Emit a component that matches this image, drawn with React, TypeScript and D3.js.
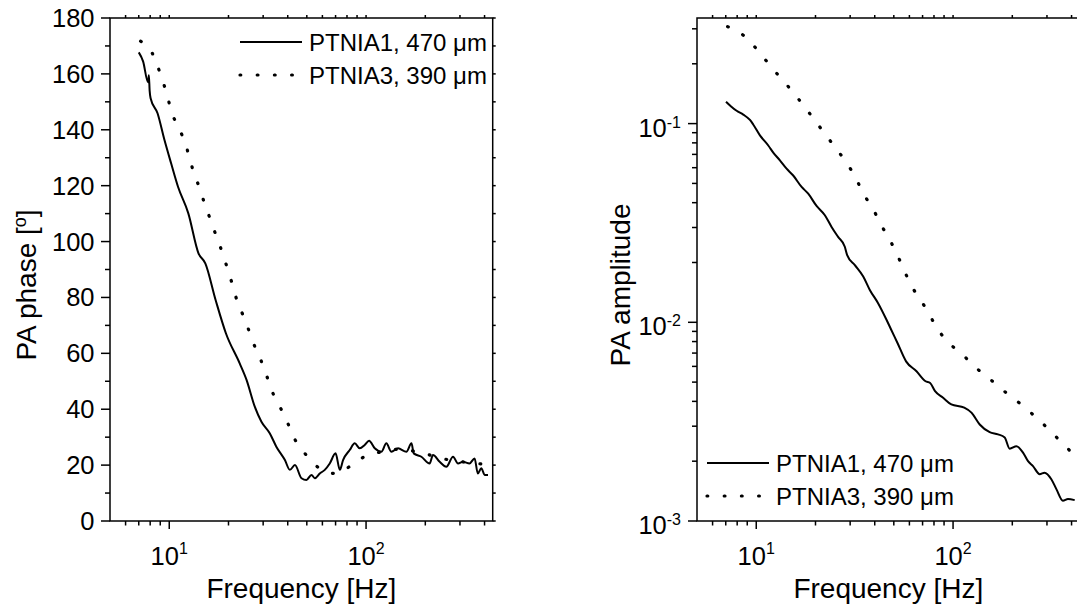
import React from 'react';
import * as d3 from 'd3';

// PA phase [deg] vs frequency [Hz]
const phaseFreq1 = [7.0, 7.37, 7.8, 7.88, 7.95, 8.04, 8.72, 9.45, 10.22, 11.08, 12.5, 14.08, 15.25, 17.2, 19.4, 22.8, 24.7, 27.2, 29.4, 32.4, 35, 38.7, 41, 43.5, 47, 49.8, 52.8, 54.9, 58.2, 61.7, 65.4, 70, 73.6, 76.4, 82.6, 87.6, 92.9, 98.4, 103.6, 110.7, 119.6, 126.8, 134.5, 145.4, 160.3, 170.1, 174.7, 191, 210.4, 218.8, 236.6, 255.8, 276.6, 293.3, 310.6, 335.6, 356, 369.7, 385, 400.4, 416.5];
const phase1 = [167.7, 164.4, 157, 159.5, 154, 151.3, 145.9, 136.4, 128, 119.6, 110.1, 95.8, 92.2, 79.1, 67.2, 56.4, 50.5, 40.9, 35.5, 31.4, 26.6, 21.8, 18.3, 20, 15.3, 14.7, 16.5, 15.3, 17, 18.3, 20.6, 24.2, 18.3, 21.8, 25.4, 27.8, 26, 27.2, 28.7, 26, 24.8, 27.8, 24.8, 26, 24.8, 27.8, 24.2, 23, 20.6, 23.6, 21.2, 19.4, 23, 20.6, 21.2, 20.6, 22.4, 17, 18.9, 16.5, 16.5];
const phaseFreq3 = [7.15, 8.2, 8.87, 9.44, 9.97, 10.24, 11.16, 12.1, 13.28, 14.26, 15.1, 16.22, 17.37, 18.66, 19.8, 21.05, 22.3, 23.7, 25.5, 26.8, 29.2, 31.4, 33.1, 36.5, 39.9, 43.5, 49.8, 57.8, 70, 84.3, 101.6, 123, 147.2, 180.2, 218.8, 254, 305, 370, 410];
const phase3 = [171.7, 167.4, 161.4, 155.7, 149.8, 146.7, 140.9, 134.8, 125, 119.1, 113.7, 107.7, 101.8, 95.8, 90.1, 84.1, 77.9, 73.7, 67.8, 63.6, 57.6, 51.6, 46.9, 40.9, 35.2, 29.2, 23.5, 18.9, 17, 19.9, 23.6, 24.8, 25.7, 24.8, 23.3, 22.1, 21.2, 20.6, 20];

// PA amplitude vs frequency
const ampFreq1 = [7.02, 7.45, 7.95, 8.59, 9.29, 9.65, 10.44, 11.51, 12.2, 13.19, 14.26, 15.41, 17.0, 18.37, 20.25, 22.32, 24.14, 26.06, 28.18, 28.97, 31.7, 34.96, 37.76, 41.6, 45.9, 48.5, 52.2, 57.7, 65.2, 72.5, 76.5, 81, 89, 98, 114, 124, 136.6, 153.5, 169.2, 183, 194, 210, 226.7, 240.4, 254.8, 275.5, 291.8, 315.7, 334.9, 361.4, 383.6, 415];
const amp1 = [0.1288, 0.122, 0.116, 0.111, 0.1043, 0.099, 0.0873, 0.0776, 0.0715, 0.0653, 0.0593, 0.0548, 0.048, 0.0444, 0.0385, 0.0346, 0.0302, 0.0269, 0.024, 0.0218, 0.0194, 0.017, 0.01455, 0.01248, 0.0103, 0.00917, 0.00787, 0.00636, 0.00567, 0.00505, 0.00495, 0.0045, 0.00417, 0.00386, 0.00372, 0.00351, 0.00306, 0.0028, 0.00273, 0.00263, 0.00231, 0.00238, 0.00221, 0.002, 0.00189, 0.00172, 0.00175, 0.001623, 0.001447, 0.001264, 0.00129, 0.001274];
const ampFreq3 = [7.15, 8.59, 9.97, 11.24, 12.93, 14.87, 17.06, 19.56, 22.32, 25.38, 28.5, 32.07, 34.7, 39.1, 43.1, 48.1, 52.8, 57.5, 63.4, 71.8, 80.2, 91.5, 109.5, 131.2, 157.2, 188, 225.4, 254, 298, 350, 410, 440];
const amp3 = [0.3077, 0.2783, 0.2394, 0.207, 0.1754, 0.1497, 0.1264, 0.1059, 0.0888, 0.0752, 0.0643, 0.0532, 0.0451, 0.0374, 0.0309, 0.0256, 0.0212, 0.0175, 0.0145, 0.012, 0.00991, 0.00817, 0.00701, 0.00589, 0.00509, 0.00438, 0.00381, 0.00344, 0.00297, 0.00253, 0.00217, 0.00205];

const xMajor = [10, 100];
const xMinor = [6, 7, 8, 9, 20, 30, 40, 50, 60, 70, 80, 90, 200, 300, 400];
const phaseMajor = [0, 20, 40, 60, 80, 100, 120, 140, 160, 180];
const phaseMinor = [10, 30, 50, 70, 90, 110, 130, 150, 170];
const ampMajor = [0.001, 0.01, 0.1];
const ampMinor = [0.002, 0.003, 0.004, 0.005, 0.006, 0.007, 0.008, 0.009, 0.02, 0.03, 0.04, 0.05, 0.06, 0.07, 0.08, 0.09, 0.2, 0.3];
const legendLabels = ['PTNIA1, 470 \u03bcm', 'PTNIA3, 390 \u03bcm'];

const FONT = '"Liberation Sans", Arial, Helvetica, sans-serif';
const DOTS = { strokeWidth: 3.2, strokeDasharray: '0.8 16.4', strokeLinecap: 'round' as const };

function Frame({ x, y, yMajor, yMinor }: any) {
  const [x0, x1] = x.range();
  const [y0, y1] = y.range();
  const ticks: JSX.Element[] = [];
  const add = (k: string, a: number, b: number, c: number, d: number) =>
    ticks.push(<line key={k} x1={a} y1={b} x2={c} y2={d} />);
  xMajor.forEach(v => { add('bM' + v, x(v), y0, x(v), y0 + 8); add('tM' + v, x(v), y1, x(v), y1 - 3); });
  xMinor.forEach(v => { add('bm' + v, x(v), y0, x(v), y0 + 4.5); add('tm' + v, x(v), y1, x(v), y1 - 3); });
  yMajor.forEach((v: number) => { add('lM' + v, x0, y(v), x0 - 9, y(v)); add('rM' + v, x1, y(v), x1 + 3, y(v)); });
  yMinor.forEach((v: number) => { add('lm' + v, x0, y(v), x0 - 5, y(v)); add('rm' + v, x1, y(v), x1 + 3, y(v)); });
  return (
    <g stroke="#000" strokeWidth={1.5} fill="none">
      <rect x={x0} y={y1} width={x1 - x0} height={y0 - y1} />
      {ticks}
    </g>
  );
}

function Legend({ x, y }: { x: number; y: number }) {
  return (
    <g fontFamily={FONT} fontSize={24}>
      <line x1={x} x2={x + 62} y1={y - 8.5} y2={y - 8.5} stroke="#000" strokeWidth={2} />
      <text x={x + 69} y={y}>{legendLabels[0]}</text>
      <line x1={x} x2={x + 62} y1={y + 24.5} y2={y + 24.5} stroke="#000" {...DOTS} />
      <text x={x + 69} y={y + 33}>{legendLabels[1]}</text>
    </g>
  );
}

export default function App() {
  const xL = d3.scaleLog().domain([5, 440]).range([110, 492.7]);
  const yL = d3.scaleLinear().domain([0, 180]).range([521, 18]);
  const xR = d3.scaleLog().domain([5, 440]).range([697, 1079.7]);
  const yR = d3.scaleLog().domain([0.001, 0.34]).range([521, 18]);

  const path = (xs: any, ys: any, fx: number[], fy: number[]) =>
    d3.line<number>().x(i => xs(fx[i])).y(i => ys(fy[i])).curve(d3.curveMonotoneX)(fx.map((_, i) => i)) || '';

  const xLabels = (xs: any) =>
    xMajor.map(v => (
      <text key={v} x={xs(v)} y={565} textAnchor="middle">
        10<tspan dy={-11} fontSize={16}>{Math.round(Math.log10(v))}</tspan>
      </text>
    ));

  return (
    <svg width={1077} height={609} style={{ position: 'absolute', left: 0, top: 0, background: '#fff' }}>
      <g fontFamily={FONT} fontSize={25.5} fill="#000">
        {/* left panel */}
        <Frame x={xL} y={yL} yMajor={phaseMajor} yMinor={phaseMinor} />
        <path d={path(xL, yL, phaseFreq1, phase1)} fill="none" stroke="#000" strokeWidth={2} />
        <path d={path(xL, yL, phaseFreq3, phase3)} fill="none" stroke="#000" {...DOTS} />
        {phaseMajor.map(v => (
          <text key={v} x={94.5} y={yL(v) + 9} textAnchor="end">{v}</text>
        ))}
        {xLabels(xL)}
        <text x={(110 + 492.7) / 2} y={598} textAnchor="middle" fontSize={28}>Frequency [Hz]</text>
        <text transform="translate(36,285) rotate(-90)" textAnchor="middle" fontSize={28}>
          PA phase [<tspan dy={-10} fontSize={18}>o</tspan><tspan dy={10}>]</tspan>
        </text>
        <Legend x={240} y={50.5} />

        {/* right panel */}
        <Frame x={xR} y={yR} yMajor={ampMajor} yMinor={ampMinor} />
        <path d={path(xR, yR, ampFreq1, amp1)} fill="none" stroke="#000" strokeWidth={2} />
        <path d={path(xR, yR, ampFreq3, amp3)} fill="none" stroke="#000" {...DOTS} />
        {ampMajor.map(v => (
          <text key={v} x={681} y={yR(v) + 13} textAnchor="end">
            10<tspan dy={-9} fontSize={16}>{'-' + Math.round(-Math.log10(v))}</tspan>
          </text>
        ))}
        {xLabels(xR)}
        <text x={(697 + 1079.7) / 2} y={598} textAnchor="middle" fontSize={28}>Frequency [Hz]</text>
        <text transform="translate(630,285) rotate(-90)" textAnchor="middle" fontSize={28}>PA amplitude</text>
        <Legend x={707} y={471.5} />
      </g>
    </svg>
  );
}
